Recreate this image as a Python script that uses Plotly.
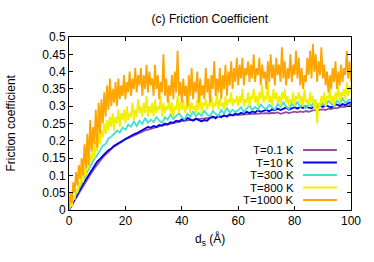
import numpy as np
import plotly.graph_objects as go

# ---- data ----
d_fine = np.arange(0, 100.01, 0.5)    # sliding distance, 0.5 Å step
d_coarse = np.arange(0, 100.01, 1.0)  # sliding distance, 1 Å step

mu_0p1K = [
    0.000, 0.012, 0.028, 0.042, 0.056, 0.070, 0.083, 0.096, 0.108, 0.120,
    0.132, 0.142, 0.152, 0.161, 0.169, 0.176, 0.183, 0.189, 0.194, 0.199,
    0.204, 0.208, 0.212, 0.216, 0.220, 0.223, 0.227, 0.230, 0.232, 0.235,
    0.237, 0.240, 0.242, 0.244, 0.246, 0.248, 0.250, 0.252, 0.253, 0.255,
    0.256, 0.258, 0.259, 0.260, 0.262, 0.263, 0.264, 0.265, 0.266, 0.267,
    0.268, 0.269, 0.270, 0.270, 0.271, 0.272, 0.272, 0.273, 0.274, 0.274,
    0.275, 0.276, 0.276, 0.277, 0.277, 0.278, 0.278, 0.279, 0.279, 0.280,
    0.280, 0.279, 0.281, 0.280, 0.282, 0.278, 0.281, 0.283, 0.280, 0.282,
    0.284, 0.282, 0.285, 0.283, 0.286, 0.284, 0.287, 0.289, 0.286, 0.290,
    0.291, 0.289, 0.293, 0.292, 0.295, 0.294, 0.297, 0.299, 0.298, 0.302,
    0.305]

mu_10K = [
    0.000, 0.015, 0.032, 0.048, 0.060, 0.076, 0.088, 0.102, 0.112, 0.128,
    0.140, 0.148, 0.158, 0.165, 0.173, 0.178, 0.186, 0.190, 0.196, 0.200,
    0.205, 0.210, 0.214, 0.219, 0.222, 0.226, 0.231, 0.236, 0.240, 0.238,
    0.243, 0.240, 0.246, 0.244, 0.250, 0.247, 0.254, 0.252, 0.258, 0.256,
    0.262, 0.259, 0.266, 0.262, 0.258, 0.264, 0.261, 0.256, 0.260, 0.258,
    0.266, 0.270, 0.265, 0.272, 0.268, 0.274, 0.270, 0.277, 0.273, 0.279,
    0.276, 0.281, 0.278, 0.284, 0.280, 0.285, 0.282, 0.288, 0.284, 0.287,
    0.289, 0.285, 0.291, 0.288, 0.293, 0.289, 0.292, 0.296, 0.290, 0.294,
    0.297, 0.293, 0.298, 0.295, 0.300, 0.296, 0.294, 0.299, 0.297, 0.302,
    0.298, 0.303, 0.299, 0.296, 0.302, 0.305, 0.301, 0.306, 0.303, 0.309,
    0.311]

mu_300K = [
    0.000, 0.021, 0.038, 0.052, 0.071, 0.086, 0.102, 0.118, 0.131, 0.148,
    0.158, 0.172, 0.186, 0.191, 0.207, 0.212, 0.221, 0.229, 0.224, 0.238,
    0.232, 0.247, 0.241, 0.256, 0.243, 0.258, 0.249, 0.266, 0.252, 0.261,
    0.254, 0.268, 0.259, 0.252, 0.268, 0.261, 0.276, 0.263, 0.272, 0.279,
    0.268, 0.262, 0.278, 0.269, 0.285, 0.271, 0.280, 0.272, 0.287, 0.276,
    0.271, 0.286, 0.278, 0.272, 0.289, 0.279, 0.294, 0.281, 0.290, 0.283,
    0.288, 0.297, 0.283, 0.291, 0.302, 0.289, 0.298, 0.290, 0.305, 0.296,
    0.291, 0.304, 0.297, 0.290, 0.306, 0.298, 0.311, 0.299, 0.292, 0.307,
    0.300, 0.312, 0.298, 0.306, 0.293, 0.309, 0.300, 0.314, 0.305, 0.299,
    0.308, 0.301, 0.315, 0.306, 0.300, 0.316, 0.308, 0.322, 0.309, 0.317,
    0.320]

mu_800K = [
    0.00, 0.02, 0.01, 0.04, 0.03, 0.06, 0.05, 0.08, 0.07, 0.11, 0.08, 0.12, 0.10, 0.15, 0.12, 0.16, 0.14, 0.19, 0.15, 0.20,
    0.17, 0.22, 0.19, 0.23, 0.21, 0.25, 0.22, 0.26, 0.23, 0.27, 0.24, 0.28, 0.23, 0.27, 0.25, 0.29, 0.24, 0.28, 0.26, 0.29,
    0.25, 0.30, 0.26, 0.28, 0.27, 0.31, 0.26, 0.29, 0.27, 0.32, 0.28, 0.30, 0.27, 0.31, 0.28, 0.33, 0.27, 0.30, 0.28, 0.31,
    0.27, 0.32, 0.28, 0.30, 0.29, 0.33, 0.27, 0.31, 0.28, 0.30, 0.29, 0.32, 0.28, 0.31, 0.27, 0.30, 0.29, 0.33, 0.28, 0.31,
    0.29, 0.32, 0.28, 0.30, 0.29, 0.33, 0.28, 0.31, 0.29, 0.30, 0.28, 0.32, 0.29, 0.34, 0.28, 0.31, 0.30, 0.32, 0.29, 0.31,
    0.30, 0.33, 0.29, 0.31, 0.30, 0.34, 0.29, 0.32, 0.30, 0.31, 0.29, 0.33, 0.30, 0.32, 0.31, 0.34, 0.30, 0.32, 0.31, 0.33,
    0.30, 0.33, 0.31, 0.35, 0.30, 0.32, 0.31, 0.34, 0.30, 0.33, 0.32, 0.35, 0.31, 0.33, 0.30, 0.34, 0.32, 0.36, 0.31, 0.33,
    0.32, 0.37, 0.31, 0.33, 0.30, 0.35, 0.32, 0.34, 0.31, 0.33, 0.30, 0.34, 0.32, 0.35, 0.31, 0.33, 0.30, 0.32, 0.31, 0.34,
    0.30, 0.33, 0.32, 0.34, 0.31, 0.33, 0.30, 0.35, 0.31, 0.32, 0.30, 0.34, 0.31, 0.33, 0.29, 0.32, 0.25, 0.31, 0.30, 0.33,
    0.31, 0.34, 0.30, 0.33, 0.32, 0.35, 0.31, 0.33, 0.30, 0.34, 0.32, 0.36, 0.31, 0.34, 0.33, 0.35, 0.32, 0.37, 0.33, 0.36,
    0.34]

mu_1000K = [
    0.00, 0.05, 0.02, 0.08, 0.05, 0.11, 0.07, 0.13, 0.09, 0.15, 0.10, 0.19, 0.12, 0.22, 0.13, 0.26, 0.17, 0.24, 0.19, 0.29,
    0.18, 0.31, 0.22, 0.32, 0.25, 0.34, 0.27, 0.36, 0.29, 0.38, 0.30, 0.35, 0.31, 0.37, 0.30, 0.38, 0.32, 0.36, 0.33, 0.39,
    0.32, 0.37, 0.34, 0.40, 0.33, 0.38, 0.35, 0.41, 0.34, 0.39, 0.36, 0.41, 0.33, 0.39, 0.35, 0.42, 0.34, 0.40, 0.36, 0.38,
    0.33, 0.42, 0.35, 0.39, 0.32, 0.37, 0.34, 0.45, 0.33, 0.38, 0.31, 0.36, 0.33, 0.39, 0.32, 0.40, 0.34, 0.46, 0.33, 0.37,
    0.31, 0.38, 0.33, 0.36, 0.30, 0.39, 0.33, 0.41, 0.32, 0.37, 0.34, 0.40, 0.31, 0.38, 0.33, 0.36, 0.32, 0.41, 0.34, 0.38,
    0.31, 0.39, 0.35, 0.43, 0.33, 0.38, 0.34, 0.41, 0.32, 0.39, 0.35, 0.42, 0.33, 0.40, 0.36, 0.43, 0.35, 0.41, 0.37, 0.44,
    0.36, 0.42, 0.38, 0.44, 0.36, 0.41, 0.39, 0.43, 0.37, 0.42, 0.38, 0.45, 0.37, 0.41, 0.39, 0.44, 0.36, 0.42, 0.38, 0.40,
    0.35, 0.43, 0.37, 0.45, 0.38, 0.42, 0.36, 0.44, 0.39, 0.42, 0.37, 0.47, 0.38, 0.43, 0.36, 0.41, 0.38, 0.45, 0.37, 0.42,
    0.39, 0.46, 0.38, 0.44, 0.36, 0.41, 0.35, 0.39, 0.37, 0.44, 0.39, 0.46, 0.38, 0.48, 0.40, 0.45, 0.37, 0.43, 0.39, 0.47,
    0.38, 0.42, 0.36, 0.40, 0.34, 0.39, 0.35, 0.41, 0.37, 0.43, 0.35, 0.40, 0.36, 0.42, 0.37, 0.41, 0.39, 0.46, 0.38, 0.43,
    0.37]

series_names = ["T=0.1 K", "T=10 K", "T=300 K", "T=800 K", "T=1000 K"]
series_x = [d_coarse, d_coarse, d_coarse, d_fine, d_fine]
series_y = [mu_0p1K, mu_10K, mu_300K, mu_800K, mu_1000K]
series_colors = ["#92509a", "#0000f0", "#40e0d0", "#f0f000", "#ffa500"]

x_ticks = [0, 20, 40, 60, 80, 100]
y_ticks = [0, 0.05, 0.1, 0.15, 0.2, 0.25, 0.3, 0.35, 0.4, 0.45, 0.5]
y_tick_labels = ["0", "0.05", "0.1", "0.15", "0.2", "0.25", "0.3", "0.35", "0.4", "0.45", "0.5"]

FONT = "Liberation Sans, Arial, sans-serif"

fig = go.Figure()
for name, xs, ys, col in zip(series_names, series_x, series_y, series_colors):
    fig.add_trace(go.Scatter(x=xs, y=ys, mode="lines", name=name,
                             line=dict(color=col, width=1.8), showlegend=False))

# gnuplot-style key: right-aligned text with line sample on its right
leg_y = [0.347, 0.274, 0.202, 0.130, 0.058]
annotations = []
shapes = []
for name, col, ly in zip(series_names, series_colors, leg_y):
    annotations.append(dict(xref="paper", yref="paper", x=0.803, y=ly, text=name,
                            showarrow=False, xanchor="right", yanchor="middle",
                            borderpad=0,
                            font=dict(family=FONT, size=11.5, color="black")))
    shapes.append(dict(type="line", xref="paper", yref="paper", x0=0.83, x1=0.95,
                       y0=ly, y1=ly, line=dict(color=col, width=2)))

annotations.append(dict(xref="paper", yref="paper", x=0.5, y=-0.17,
                        text="d<sub>s</sub> (Å)", showarrow=False,
                        xanchor="center", yanchor="middle",
                        font=dict(family=FONT, size=12, color="black")))
annotations.append(dict(xref="paper", yref="paper", x=-0.209, y=0.5,
                        text="Friction coefficient", showarrow=False, textangle=-90,
                        xanchor="center", yanchor="middle",
                        font=dict(family=FONT, size=12, color="black")))

axis_common = dict(showline=True, linecolor="black", linewidth=1, mirror="ticks",
                   ticks="inside", ticklen=4, tickcolor="black", tickwidth=1,
                   showgrid=False, zeroline=False,
                   tickfont=dict(family=FONT, size=12, color="black"))

fig.update_layout(
    width=374, height=262,
    margin=dict(l=69, r=23, t=37, b=52),
    paper_bgcolor="white", plot_bgcolor="white",
    title=dict(text="(c) Friction Coefficient", x=0.561, xanchor="center",
               y=1 - 19 / 262, yanchor="middle", yref="container",
               font=dict(family=FONT, size=12, color="black")),
    xaxis=dict(range=[0, 100], tickvals=x_ticks, **axis_common),
    yaxis=dict(range=[0, 0.5], tickvals=y_ticks, ticktext=y_tick_labels, **axis_common),
    annotations=annotations, shapes=shapes,
)

fig.write_html("out.html", config={"displayModeBar": False},
               post_script="document.body.style.margin='0px';document.body.style.overflow='hidden';")
